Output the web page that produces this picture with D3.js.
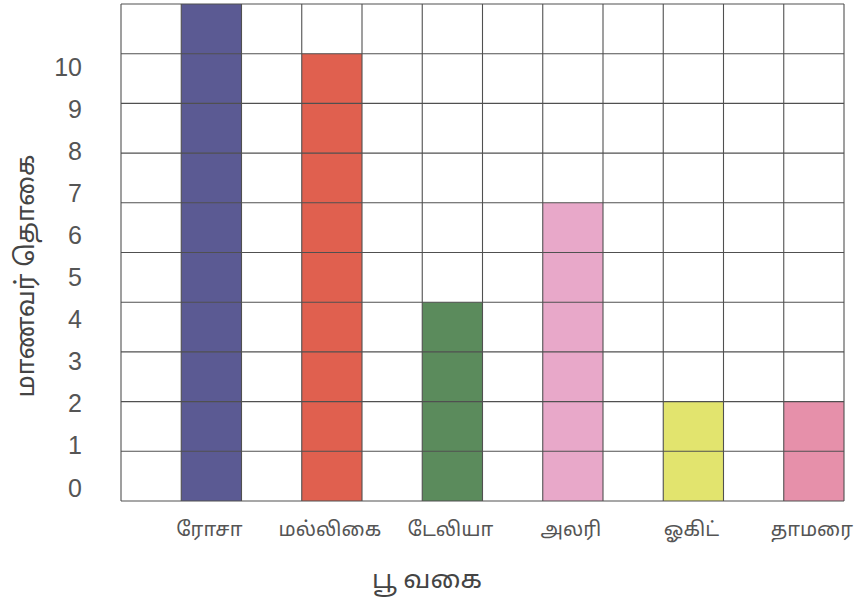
<!DOCTYPE html>
<html>
<head>
<meta charset="utf-8">
<script src="https://cdn.jsdelivr.net/npm/d3@7"></script>
<style>
  html, body { margin: 0; padding: 0; background: #ffffff; }
  svg { display: block; }
</style>
</head>
<body>
<svg id="chart" width="859" height="598"></svg>
<script>
// ---- data ----
const categories = ["ரோசா", "மல்லிகை", "டேலியா", "அலரி", "ஓகிட்", "தாமரை"];
const values = [10, 9, 4, 6, 2, 2];           // bar heights counted in grid rows
const colors = ["#5b5a93", "#e0604f", "#5b8b5c", "#e8a8c9", "#e2e46e", "#e690aa"];
const tickLabels = [0, 1, 2, 3, 4, 5, 6, 7, 8, 9, 10];
const gridRows = [0, 1, 2, 3, 4, 5, 6, 7, 8, 9, 10];
const xTitle = "பூ வகை";
const yTitle = "மாணவர் தொகை";

const svg = d3.select("#chart");
const L = 121, R = 844, T = 4, B = 501;
const tamilFont = "'Noto Sans Tamil', 'Noto Sans', sans-serif";

const x = d3.scaleBand().domain(categories).range([L, R]).paddingInner(0).paddingOuter(0);
const y = d3.scaleLinear().domain([0, 10]).range([B, T]);
const yLab = d3.scaleLinear().domain([0, 10]).range([488, 67]);
const col = d3.scaleLinear().domain([0, categories.length * 2]).range([L, R]);

// bars (in the second half of each category band)
svg.append("g").selectAll("rect").data(categories).join("rect")
  .attr("x", d => x(d) + x.bandwidth() / 2)
  .attr("width", x.bandwidth() / 2)
  .attr("y", (d, i) => y(values[i]))
  .attr("height", (d, i) => y(0) - y(values[i]))
  .attr("fill", (d, i) => colors[i]);

// grid on top
const grid = svg.append("g").attr("stroke", "#505050").attr("stroke-width", 1.1).attr("fill", "none");
grid.selectAll("line.h").data(gridRows).join("line").attr("class", "h")
  .attr("x1", L).attr("x2", R).attr("y1", d => y(d)).attr("y2", d => y(d));
grid.selectAll("line.v").data(d3.range(categories.length * 2 + 1)).join("line").attr("class", "v")
  .attr("y1", T).attr("y2", B).attr("x1", d => col(d)).attr("x2", d => col(d));

// y tick labels
const yAxis = d3.axisLeft(yLab).tickValues(tickLabels).tickSize(0).tickPadding(0).tickFormat(d3.format("d"));
const gy = svg.append("g").attr("transform", "translate(82,0)").call(yAxis);
gy.select(".domain").remove();
gy.selectAll("text").attr("font-family", "'Liberation Sans', Arial, sans-serif")
  .attr("font-size", 25).attr("fill", "#555");

// x labels
const xAxis = d3.axisBottom(x).tickSize(0).tickPadding(0);
const gx = svg.append("g").attr("transform", "translate(0,522)").call(xAxis);
gx.select(".domain").remove();
gx.selectAll(".tick").attr("transform", d => `translate(${x(d) + x.bandwidth() * 0.75 - 2},0)`);
gx.selectAll("text").attr("font-size", 20).attr("fill", "#555").attr("font-family", tamilFont);

// axis titles
svg.append("text").attr("x", 427).attr("y", 588).attr("text-anchor", "middle")
  .attr("font-family", tamilFont).attr("font-size", 26).attr("fill", "#444").text(xTitle);
svg.append("text").attr("transform", "translate(34,276) rotate(-90)").attr("text-anchor", "middle")
  .attr("font-family", tamilFont).attr("font-size", 26).attr("fill", "#444").text(yTitle);
</script>
</body>
</html>
